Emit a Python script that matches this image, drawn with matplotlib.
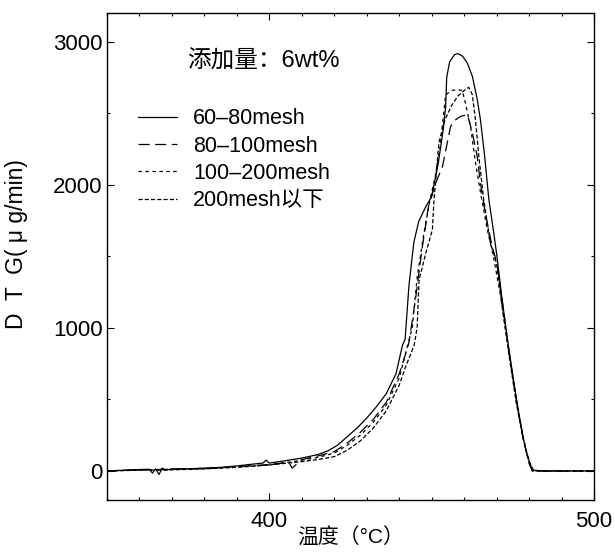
import matplotlib
matplotlib.use('Agg')
import matplotlib.pyplot as plt
from matplotlib.ticker import MultipleLocator

plt.rcParams['font.family'] = ['Liberation Sans', 'Noto Sans CJK SC', 'DejaVu Sans']
plt.rcParams['lines.scale_dashes'] = False

# 60-80mesh (solid)
t_6080 = [350, 355, 360, 363, 364, 365, 366, 367, 368, 370, 375, 380, 385, 390, 395, 398, 399,
          400, 405, 410, 415, 418, 421, 424, 427, 430, 433, 436, 439, 441, 441.8, 443, 444.5, 446,
          448, 450, 452, 453.5, 454.3, 454.6, 455.5, 457, 458, 459.5, 461, 462.5, 464, 465, 466.3,
          467.6, 469, 470.1, 471.5, 473.2, 474.5, 475.8, 477, 478.3, 479.5, 481, 485, 490, 495, 500]
d_6080 = [0, 5, 10, 12, -15, 15, -25, 20, 5, 15, 15, 20, 25, 35, 48, 55, 75,
          55, 72, 90, 115, 140, 180, 240, 300, 370, 450, 540, 680, 880, 920, 1300, 1600, 1745,
          1840, 1920, 2150, 2380, 2550, 2750, 2860, 2910, 2918, 2900, 2850, 2760, 2600, 2456, 2200,
          1896, 1680, 1500, 1230, 940, 740, 546, 380, 217, 100, 5, 0, 0, 0, 0]

# 80-100mesh (long dash)
t_80100 = [350, 360, 370, 380, 390, 400, 406, 407, 410, 415, 420, 424, 428, 432, 436, 440, 442,
           443, 445, 447, 449, 451, 453.3, 455.8, 457.4, 459, 461, 462.5, 464, 465, 466.5, 468.6,
           470, 472, 474, 476, 478, 480, 481, 490, 500]
d_80100 = [0, 8, 12, 18, 30, 45, 60, 20, 80, 105, 135, 195, 270, 360, 480, 680, 820,
           900, 1200, 1550, 1850, 2000, 2128, 2408, 2456, 2480, 2491, 2365, 2200, 2013, 1800, 1570,
           1460, 1140, 800, 500, 240, 50, 0, 0, 0]

# 100-200mesh (medium dash)
t_100200 = [350, 360, 370, 380, 390, 400, 410, 415, 420, 424, 428, 432, 436, 440, 442.5, 444,
            445.5, 447.5, 449.5, 451, 452.5, 454.3, 456.3, 458, 459.4, 460.5, 462, 463.5, 465,
            467, 469, 471, 473, 475, 477, 479, 481, 490, 500]
d_100200 = [0, 6, 10, 16, 28, 42, 75, 95, 125, 180, 250, 340, 460, 650, 870, 1000,
            1350, 1650, 1900, 2050, 2250, 2631, 2661, 2665, 2661, 2560, 2400, 2150, 1950,
            1700, 1500, 1250, 950, 650, 370, 150, 0, 0, 0]

# 200mesh以下 (short dash)
t_200 = [350, 360, 370, 380, 390, 400, 410, 415, 420, 424, 428, 432, 436, 440, 442, 444.6,
         445.5, 446.1, 448.2, 450.2, 450.7, 452.2, 454, 456, 458, 460, 461.4, 462.5, 463.5,
         464.5, 466, 468, 470, 472, 474, 476, 478, 480, 481.5, 490, 500]
d_200 = [0, 5, 8, 14, 25, 42, 65, 80, 100, 145, 210, 300, 420, 600, 730, 880,
         1000, 1337, 1525, 1687, 1896, 2295, 2450, 2550, 2620, 2660, 2682, 2631, 2450,
         2200, 1900, 1600, 1450, 1100, 780, 480, 240, 60, 0, 0, 0]

labels = ['60–80mesh', '80–100mesh', '100–200mesh', '200mesh以下']

fig = plt.figure(figsize=(6.15, 5.52), dpi=100)
ax = fig.add_axes([0.174, 0.095, 0.792, 0.881])

lw = 0.9
l1, = ax.plot(t_6080, d_6080, color='black', lw=lw, linestyle='-')
l2, = ax.plot(t_80100, d_80100, color='black', lw=lw, linestyle=(0, (8, 4)))
l3, = ax.plot(t_100200, d_100200, color='black', lw=lw, linestyle=(0, (2.5, 2.5)))
l4, = ax.plot(t_200, d_200, color='black', lw=lw, linestyle=(0, (3, 1.5)))

ax.set_xlim(350, 500)
ax.set_ylim(-200, 3200)
ax.set_xticks([400, 500])
ax.set_yticks([0, 1000, 2000, 3000])
ax.xaxis.set_minor_locator(MultipleLocator(10))
ax.yaxis.set_minor_locator(MultipleLocator(500))
ax.tick_params(which='both', direction='in', top=True, right=True, width=0.8)
ax.tick_params(which='major', length=5, labelsize=16)
ax.tick_params(which='minor', length=2.5)
ax.tick_params(axis='x', which='major', pad=8)
ax.tick_params(axis='y', which='major', pad=3)
for s in ax.spines.values():
    s.set_linewidth(1.0)

ax.set_xlabel('温度（°C）', fontsize=15, labelpad=-3)
ax.set_ylabel('D  T  G( μ g/min)', fontsize=16.5)
ax.yaxis.set_label_coords(-0.163, 0.525)

ax.text(0.164, 0.9, '添加量：6wt%', transform=ax.transAxes, fontsize=17, va='center', ha='left')

ax.legend([l1, l2, l3, l4], labels, loc='upper left', bbox_to_anchor=(0.064, 0.805),
          frameon=False, fontsize=15.5, handlelength=1.8, handletextpad=0.75,
          labelspacing=0.3, borderpad=0, borderaxespad=0)

fig.savefig('out.png', dpi=100)
